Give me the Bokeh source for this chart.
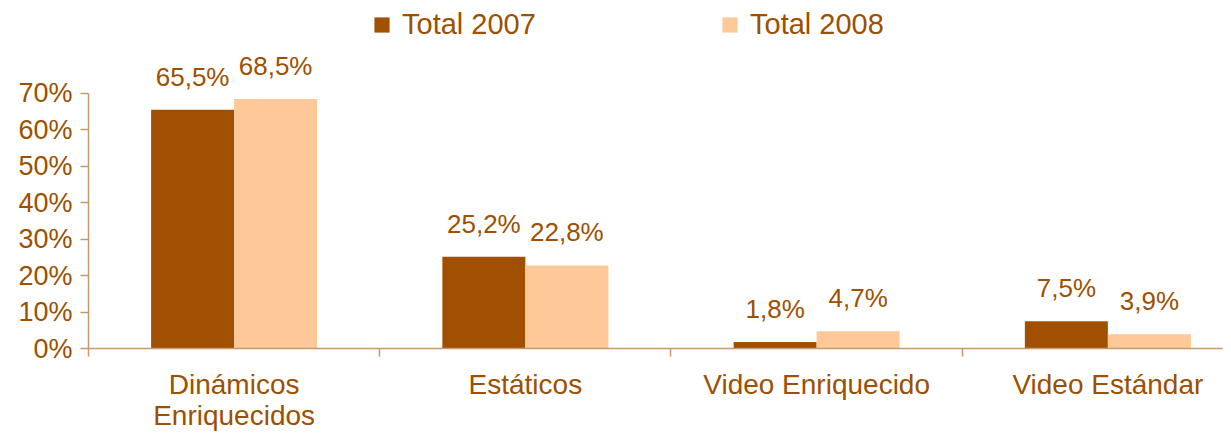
import numpy as np
from bokeh.plotting import figure
from bokeh.models import (ColumnDataSource, Range1d, FixedTicker, CustomJSTickFormatter,
                          Legend, LegendItem)
from bokeh.transform import dodge
from bokeh.core.properties import value
from bokeh.embed import file_html
from bokeh.resources import INLINE

# ---- data ----
categories = ["Dinámicos\nEnriquecidos", "Estáticos", "Video Enriquecido", "Video Estándar"]
series_names = ["Total 2007", "Total 2008"]
total_2007 = [65.5, 25.2, 1.8, 7.5]
total_2008 = [68.5, 22.8, 4.7, 3.9]
y_ticks = [0, 10, 20, 30, 40, 50, 60, 70]
y_tick_labels = ["0%", "10%", "20%", "30%", "40%", "50%", "60%", "70%"]

# ---- styles ----
DARK = "#A05000"
LIGHT = "#FFC899"
TEXT = "#9C5000"
AXIS = "#C49A6C"
FONT = "Liberation Sans"

def fmt(v):
    return f"{v:.1f}".replace(".", ",") + "%"

centers = np.arange(len(categories)) + 0.5
src = ColumnDataSource(dict(
    x=centers,
    y07=total_2007,
    y08=total_2008,
    l07=[fmt(v) for v in total_2007],
    l08=[fmt(v) for v in total_2008],
))

p = figure(width=1231, height=433, output_backend="svg", toolbar_location=None,
           x_range=Range1d(0, 3.8936), y_range=Range1d(0, 95.5),
           min_border_left=88, min_border_right=9, min_border_top=0, min_border_bottom=85)
p.outline_line_color = None
p.grid.visible = False
p.background_fill_color = "white"

BW = 0.285
r07 = p.vbar(x=dodge("x", -BW / 2, range=p.x_range), top="y07", width=BW, source=src,
             fill_color=DARK, line_color=None)
r08 = p.vbar(x=dodge("x", BW / 2, range=p.x_range), top="y08", width=BW, source=src,
             fill_color=LIGHT, line_color=None)

for col, lab, off in (("y07", "l07", -BW / 2), ("y08", "l08", BW / 2)):
    p.text(x=dodge("x", off, range=p.x_range), y=col, text=lab, source=src,
           text_align="center", text_baseline="bottom", y_offset=-18,
           text_font=value(FONT), text_font_size="26px", text_color=TEXT)

# y axis
ya = p.yaxis[0]
ya.ticker = FixedTicker(ticks=y_ticks)
ya.major_label_overrides = {t: l for t, l in zip(y_ticks, y_tick_labels)}
ya.bounds = (0, 70)
ya.axis_line_color = AXIS
ya.axis_line_width = 1.5
ya.major_tick_line_color = AXIS
ya.major_tick_line_width = 1.5
ya.major_tick_out = 8
ya.major_tick_in = 0
ya.minor_tick_line_color = None
ya.major_label_text_font = FONT
ya.major_label_text_font_size = "27px"
ya.major_label_text_color = TEXT
ya.major_label_standoff = 8

# x axis
xa = p.xaxis[0]
xa.ticker = FixedTicker(ticks=list(centers), minor_ticks=list(range(len(categories))))
xa.formatter = CustomJSTickFormatter(args=dict(labels=categories),
                                     code="const i = Math.floor(tick); return labels[i] ?? '';")
xa.axis_line_color = AXIS
xa.axis_line_width = 1.5
xa.major_tick_out = 0
xa.major_tick_in = 0
xa.major_tick_line_color = None
xa.minor_tick_line_color = AXIS
xa.minor_tick_line_width = 1.5
xa.minor_tick_out = 8
xa.minor_tick_in = 0
xa.major_label_text_font = FONT
xa.major_label_text_font_size = "28px"
xa.major_label_text_color = TEXT
xa.major_label_text_line_height = 1.0
xa.major_label_standoff = 12

legend = Legend(items=[LegendItem(label=series_names[0], renderers=[r07]),
                       LegendItem(label=series_names[1], renderers=[r08])],
                orientation="horizontal", location=(284, 307),
                glyph_width=19, glyph_height=19, label_standoff=11,
                label_width=300, spacing=18, padding=0, margin=0,
                border_line_color=None, background_fill_alpha=0,
                label_text_font=FONT, label_text_font_size="29px",
                label_text_color=TEXT)
p.add_layout(legend, "center")

open("out.html", "w").write(file_html(p, INLINE))
